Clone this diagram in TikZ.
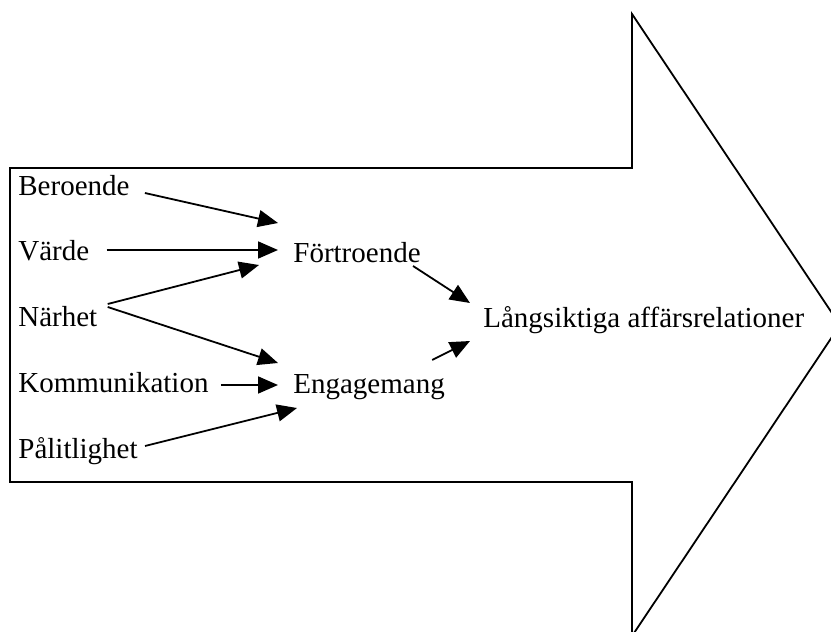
\documentclass[tikz,border=0pt]{standalone}
\usepackage{fontspec}
\setmainfont{Liberation Serif}
\usetikzlibrary{arrows.meta,calc}
\begin{document}
\begin{tikzpicture}[
        x=0.5pt, y=-0.5pt,
        label/.style={anchor=base west, inner sep=0pt, font=\fontsize{14.5}{17}\selectfont},
        link/.style={line width=0.9pt, -{Triangle[length=10pt, width=8.5pt]}},
        outline/.style={line width=0.9pt, line join=miter}
    ]
        \useasboundingbox (0,0) rectangle (831,632);
        \clip (0,0) rectangle (831,632);

        % Big arrow
        \draw[outline] (10,168) -- (632,168) -- (632,14) -- (840,325)
            -- (632,636) -- (632,482) -- (10,482) -- cycle;

        % Factors
        \node[label] (beroende) at (18,195) {Beroende};
        \node[label] (varde) at (18,260) {Värde};
        \node[label] (narhet) at (18,326) {Närhet};
        \node[label] (kommunikation) at (18,392) {Kommunikation};
        \node[label] (palitlighet) at (18,458) {Pålitlighet};

        % Mediators and outcome
        \node[label] (fortroende) at (293,262) {Förtroende};
        \node[label] (engagemang) at (293,393) {Engagemang};
        \node[label] (relationer) at (483,327) {Långsiktiga affärsrelationer};

        % Links to Förtroende
        \draw[link] ($(beroende.base east)+(15,-2)$) -- ($(fortroende.base west)+(-15,-39)$);
        \draw[link] ($(varde.base east)+(17,-10)$) -- ($(fortroende.base west)+(-15,-12)$);
        \draw[link] ($(narhet.base east)+(10,-22)$) -- ($(fortroende.base west)+(-34,3)$);

        % Links to Engagemang
        \draw[link] ($(narhet.base east)+(10,-19)$) -- ($(engagemang.base west)+(-15,-30)$);
        \draw[link] ($(kommunikation.base east)+(12,-7)$) -- ($(engagemang.base west)+(-15,-8)$);
        \draw[link] ($(palitlighet.base east)+(7,-12)$) -- ($(engagemang.base west)+(4,15)$);

        % Links to outcome
        \draw[link] ($(fortroende.base east)+(-8,4)$) -- ($(relationer.base west)+(-13,-24)$);
        \draw[link] ($(engagemang.base east)+(-13,-33)$) -- ($(relationer.base west)+(-13,14)$);
    \end{tikzpicture}
\end{document}
